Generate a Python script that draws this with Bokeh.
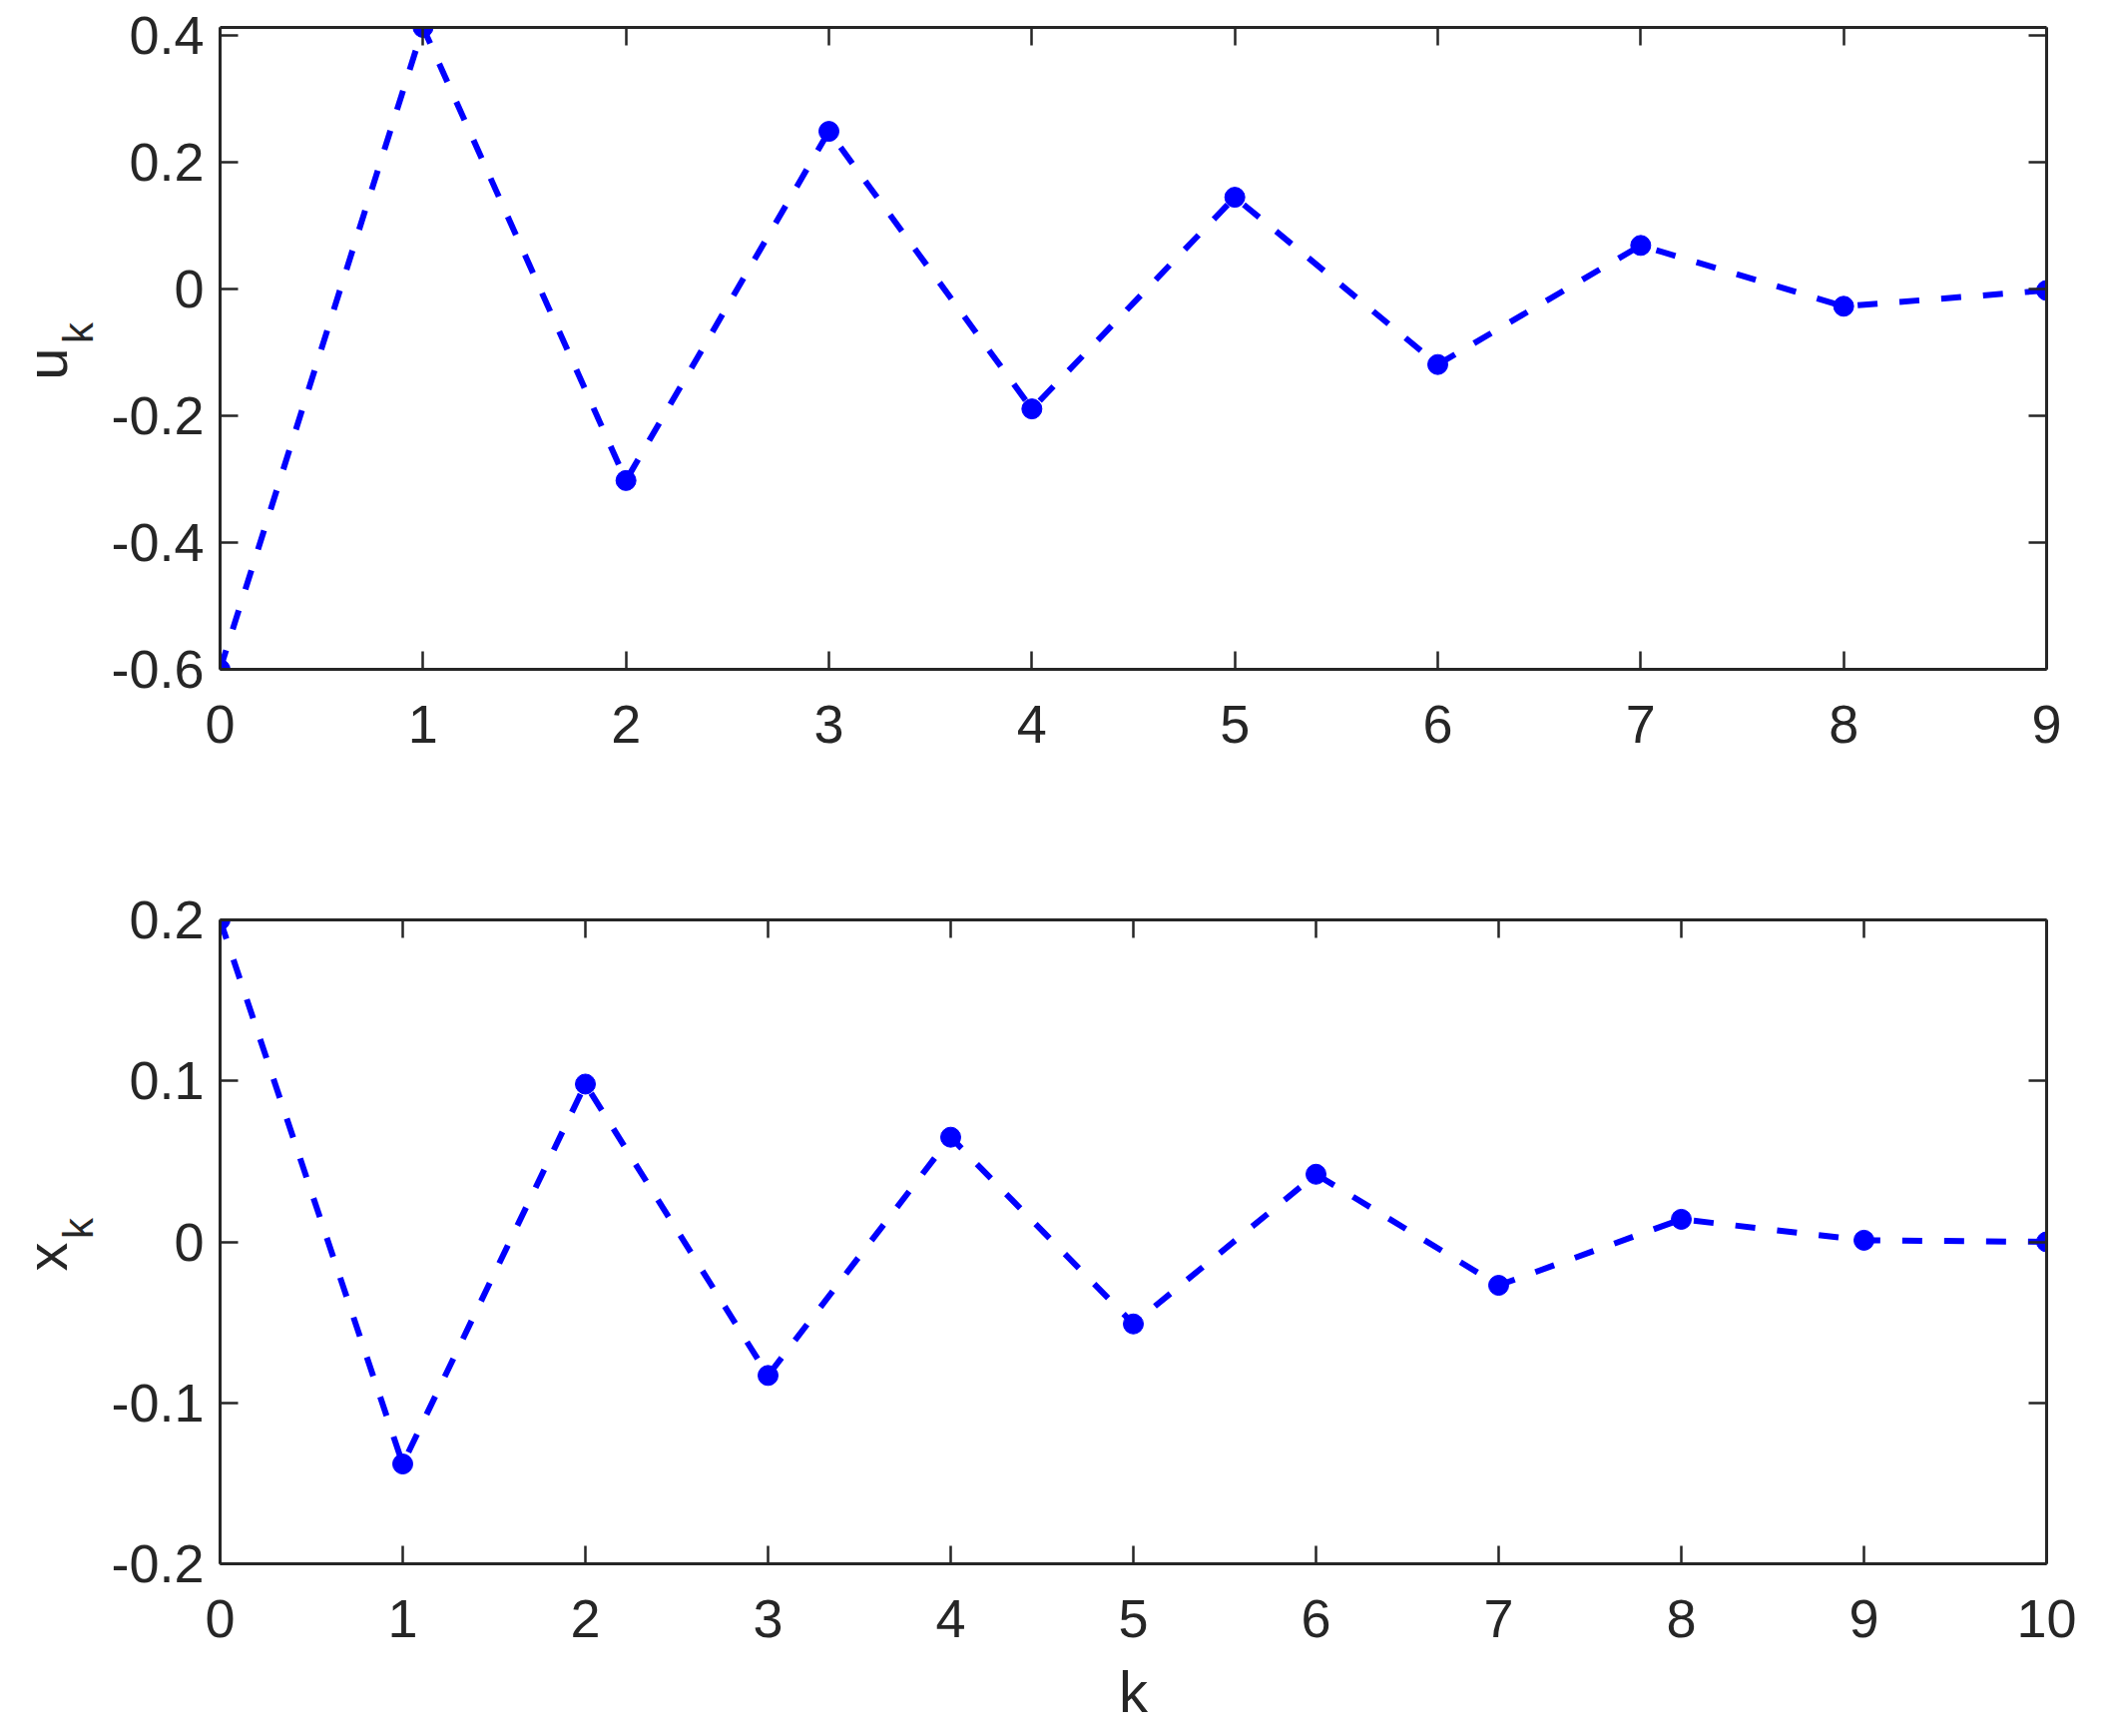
import math
from bokeh.plotting import figure
from bokeh.models import Range1d, FixedTicker, LinearAxis, CustomJSTickFormatter
from bokeh.layouts import column, row
from bokeh.core.properties import value
from bokeh.embed import file_html
from bokeh.resources import INLINE

# ---- data ----
K_U = [0, 1, 2, 3, 4, 5, 6, 7, 8, 9]
U = [-0.6, 0.413, -0.302, 0.249, -0.189, 0.145, -0.119, 0.069, -0.027, -0.002]

K_X = [0, 1, 2, 3, 4, 5, 6, 7, 8, 9, 10]
X = [0.2, -0.138, 0.098, -0.083, 0.065, -0.051, 0.042, -0.027, 0.014, 0.001, 0.0]

U_XTICKS = [0, 1, 2, 3, 4, 5, 6, 7, 8, 9]
U_YTICKS = [-0.6, -0.4, -0.2, 0, 0.2, 0.4]
U_YTICK_LABELS = ["-0.6", "-0.4", "-0.2", "0", "0.2", "0.4"]

X_XTICKS = [0, 1, 2, 3, 4, 5, 6, 7, 8, 9, 10]
X_YTICKS = [-0.2, -0.1, 0, 0.1, 0.2]
X_YTICK_LABELS = ["-0.2", "-0.1", "0", "0.1", "0.2"]

FONT = "Liberation Sans"
TXT = "#262626"
BLUE = "#0000FF"
TICK_FS = "54px"
LABEL_FS = "58px"
SUB_FS = "42px"

LABEL_W = 104      # width of the y-label strip
MAIN_W = 1986      # width of each chart
MAIN_LEFT = 116    # left border of each chart (strip + border = 220)


def style_axis(ax, ticks, show_labels, overrides=None, standoff=20):
    ax.ticker = FixedTicker(ticks=ticks)
    ax.minor_tick_line_color = None
    ax.major_tick_in = 18
    ax.major_tick_out = 0
    ax.major_tick_line_width = 2.5
    ax.major_tick_line_color = TXT
    ax.axis_line_width = 3
    ax.axis_line_color = TXT
    if show_labels:
        ax.major_label_text_font = FONT
        ax.major_label_text_font_size = TICK_FS
        ax.major_label_text_color = TXT
        ax.major_label_standoff = standoff
        if overrides:
            ax.major_label_overrides = overrides
    else:
        ax.formatter = CustomJSTickFormatter(code="return ''")
        ax.major_label_text_font_size = "0px"
        ax.major_label_standoff = 0


def make_fig(xs, ys, xr, yr, xticks, yticks, ylabels, height, bt, bb, xlabel=None):
    p = figure(width=MAIN_W, height=height, output_backend="svg",
               toolbar_location=None, x_range=xr, y_range=yr,
               min_border_left=MAIN_LEFT, min_border_right=40,
               min_border_top=bt, min_border_bottom=bb)
    p.background_fill_color = "white"
    p.border_fill_color = "white"
    p.outline_line_color = None
    p.xgrid.visible = False
    p.ygrid.visible = False

    bottom = p.xaxis[0]
    left = p.yaxis[0]
    style_axis(bottom, xticks, True, standoff=36)
    style_axis(left, yticks, True, overrides=dict(zip(yticks, ylabels)), standoff=16)
    top = LinearAxis()
    right = LinearAxis()
    style_axis(top, xticks, False)
    style_axis(right, yticks, False)
    p.add_layout(top, "above")
    p.add_layout(right, "right")

    if xlabel:
        bottom.axis_label = xlabel
        bottom.axis_label_text_font = FONT
        bottom.axis_label_text_font_size = LABEL_FS
        bottom.axis_label_text_font_style = "normal"
        bottom.axis_label_text_color = TXT
        bottom.axis_label_standoff = 19

    p.line(xs, ys, line_color=BLUE, line_width=6, line_dash="20 22")
    p.scatter(xs, ys, size=20, fill_color=BLUE, line_color=BLUE)
    return p


def make_ylabel(height, y_range, bt, bb, main, main_y, sub_y):
    """Narrow strip (sharing the chart's y range) holding the rotated
    y label with its subscript k."""
    f = figure(width=LABEL_W, height=height, output_backend="svg",
               toolbar_location=None, x_range=Range1d(0, LABEL_W),
               y_range=y_range,
               min_border_left=0, min_border_right=0,
               min_border_top=bt, min_border_bottom=bb)
    f.axis.visible = False
    f.grid.visible = False
    f.outline_line_color = None
    f.background_fill_color = "white"
    f.border_fill_color = "white"
    f.text(x=[46], y=[main_y], text=[main], angle=math.pi / 2,
           text_align="center", text_baseline="middle",
           text_font=value(FONT), text_font_size=value(LABEL_FS), text_color=TXT)
    f.text(x=[78], y=[sub_y], text=["k"], angle=math.pi / 2,
           text_align="center", text_baseline="middle",
           text_font=value(FONT), text_font_size=value(SUB_FS), text_color=TXT)
    return f


H1, H2 = 790, 941
yr1 = Range1d(min(U), max(U))
yr2 = Range1d(-0.2, 0.2)
p1 = make_fig(K_U, U, Range1d(min(K_U), max(K_U)), yr1,
              U_XTICKS, U_YTICKS, U_YTICK_LABELS, H1, 27, 120)
l1 = make_ylabel(H1, yr1, 27, 120, "u", -0.118, -0.069)

p2 = make_fig(K_X, X, Range1d(min(K_X), max(K_X)), yr2,
              X_XTICKS, X_YTICKS, X_YTICK_LABELS, H2, 131, 165, xlabel="k")
l2 = make_ylabel(H2, yr2, 131, 165, "x", -0.0093, 0.0084)

layout = column(row(l1, p1, spacing=0), row(l2, p2, spacing=0), spacing=0)
open("out.html", "w").write(file_html(layout, INLINE))
